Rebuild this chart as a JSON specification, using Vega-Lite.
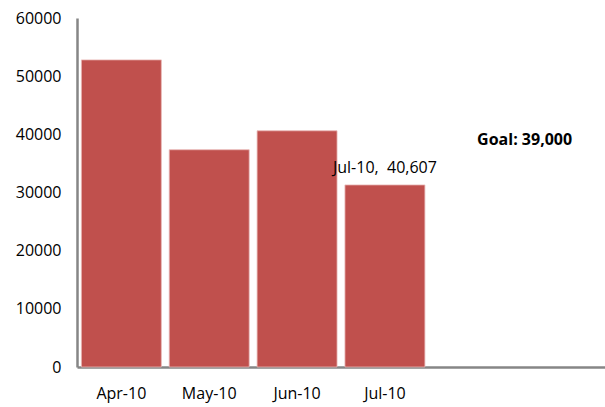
{
  "$schema": "https://vega.github.io/schema/vega-lite/v6.json",
  "width": 528,
  "height": 349,
  "autosize": "none",
  "padding": {"left": 77, "top": 18, "right": 0, "bottom": 40},
  "background": "white",
  "config": {"view": {"stroke": null}, "font": "Open Sans"},
  "datasets": {
    "bars": [
      {"month": "Apr-10", "value": 52800},
      {"month": "May-10", "value": 37350},
      {"month": "Jun-10", "value": 40607},
      {"month": "Jul-10", "value": 31300}
    ],
    "labels": [
      {"month": "Jul-10", "value": 31300, "text": "Jul-10,\u00a0 40,607"}
    ],
    "goal": [
      {"month": "Sep-10", "value": 39000, "text": "Goal: 39,000"}
    ]
  },
  "encoding": {
    "x": {
      "field": "month",
      "type": "nominal",
      "sort": null,
      "scale": {"domain": ["Apr-10", "May-10", "Jun-10", "Jul-10", "Aug-10", "Sep-10"], "paddingInner": 0.09, "paddingOuter": 0.05},
      "axis": {
        "title": null,
        "values": ["Apr-10", "May-10", "Jun-10", "Jul-10"],
        "labelAngle": 0,
        "ticks": false,
        "labelPadding": 18,
        "labelFontSize": 16,
        "labelColor": "#000000",
        "domainColor": "#868686",
        "domainWidth": 2.5
      }
    },
    "y": {
      "field": "value",
      "type": "quantitative",
      "scale": {"domain": [0, 60000], "nice": false},
      "axis": {
        "title": null,
        "values": [0, 10000, 20000, 30000, 40000, 50000, 60000],
        "format": "d",
        "grid": false,
        "ticks": false,
        "labelPadding": 16,
        "labelFontSize": 16,
        "labelColor": "#000000",
        "domainColor": "#868686",
        "domainWidth": 2.5
      }
    }
  },
  "layer": [
    {
      "data": {"name": "bars"},
      "mark": {"type": "bar", "color": "#C0504D", "stroke": "#E8B8B6", "strokeWidth": 0.8}
    },
    {
      "data": {"name": "labels"},
      "mark": {"type": "text", "fontSize": 16, "color": "#000000", "baseline": "alphabetic", "dy": -12},
      "encoding": {"text": {"field": "text"}}
    },
    {
      "data": {"name": "goal"},
      "mark": {"type": "text", "fontSize": 16, "fontWeight": "bold", "color": "#000000", "baseline": "middle", "dx": -36},
      "encoding": {"text": {"field": "text"}}
    }
  ]
}
